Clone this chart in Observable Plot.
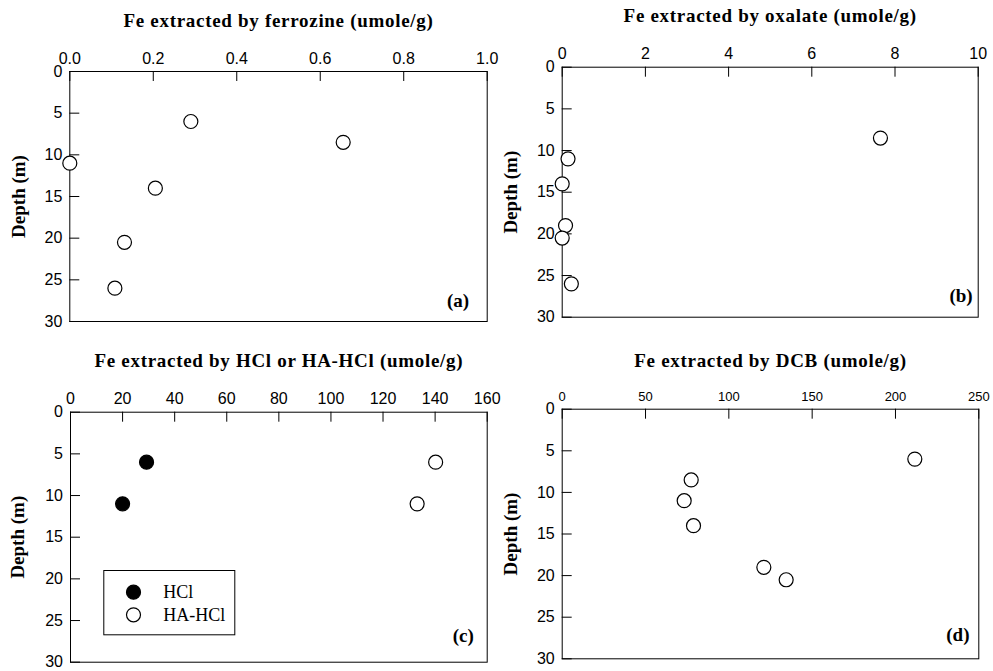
<!DOCTYPE html>
<html><head><meta charset="utf-8">
<script src="https://cdn.jsdelivr.net/npm/d3@7"></script>
<script src="https://cdn.jsdelivr.net/npm/@observablehq/plot@0.6"></script>
<style>
body{margin:0;background:#fff;}
#root{position:relative;width:993px;height:671px;background:#fff;overflow:hidden;}
.panel{position:absolute;}
</style></head><body><div id="root"></div>
<script>
// ---- data ----
const depthTicks = [0, 5, 10, 15, 20, 25, 30];

const ferrozineDepth = [6, 8.5, 11, 14, 20.5, 26];
const ferrozineFe = [0.29, 0.655, 0.0, 0.205, 0.131, 0.108];
const ferrozineTicks = [0, 0.2, 0.4, 0.6, 0.8, 1.0];

const oxalateDepth = [8.5, 11, 14, 19, 20.5, 26];
const oxalateFe = [7.65, 0.14, 0.0, 0.08, 0.0, 0.22];
const oxalateTicks = [0, 2, 4, 6, 8, 10];

const hclDepth = [6, 11];
const hclFe = [29.2, 20.0];
const haHclDepth = [6, 11];
const haHclFe = [140.2, 133.1];
const hclTicks = [0, 20, 40, 60, 80, 100, 120, 140, 160];

const dcbDepth = [6, 8.5, 11, 14, 19, 20.5];
const dcbFe = [211.6, 77.4, 73.2, 78.8, 121, 134.4];
const dcbTicks = [0, 50, 100, 150, 200, 250];

const titles = [
  "Fe extracted by ferrozine (umole/g)",
  "Fe extracted by oxalate (umole/g)",
  "Fe extracted by HCl or HA-HCl (umole/g)",
  "Fe extracted by DCB (umole/g)"
];
const panelTags = ["(a)", "(b)", "(c)", "(d)"];
const depthLabel = "Depth (m)";
const legendLabels = ["HCl", "HA-HCl"];

// ---- drawing ----
const serif = "'Liberation Serif', 'Times New Roman', serif";
const sans = "'Liberation Sans', Arial, sans-serif";
const rows = (xs, ys) => xs.map((v, i) => ({fe: v, depth: ys[i]}));
const TICK = 10; // inward tick length in px

function panel(cfg) {
  const {left, top, width, height, ml, mr, mt, mb, xDomain, xTicks, xFormat, xFontSize,
         series, title, titleDy, tag, tagDx, tagDy, labelDx, extra = []} = cfg;
  const fh = height - mt - mb, fw = width - ml - mr;
  const yTickLen = 30 * TICK / fh;
  const xTickLen = (xDomain[1] - xDomain[0]) * TICK / fw;
  const plot = Plot.plot({
    width, height, marginTop: mt, marginRight: mr, marginBottom: mb, marginLeft: ml,
    style: {fontFamily: sans, fontSize: "16px", color: "#000", background: "transparent", overflow: "visible"},
    x: {domain: xDomain},
    y: {domain: [0, 30], reverse: true},
    marks: [
      Plot.frame({stroke: "#000", strokeWidth: 1}),
      Plot.ruleX(xTicks, {x: d => d, y1: 0, y2: yTickLen, stroke: "#000", strokeWidth: 1}),
      Plot.ruleY(depthTicks, {y: d => d, x1: xDomain[0], x2: xDomain[0] + xTickLen, stroke: "#000", strokeWidth: 1}),
      Plot.axisX({anchor: "top", ticks: xTicks, tickFormat: xFormat, tickSize: 0, tickPadding: 8, fontSize: xFontSize, label: null}),
      Plot.axisY({anchor: "left", ticks: depthTicks, tickSize: 0, tickPadding: 7.5, fontSize: 16, label: null}),
      ...series.map(s => Plot.dot(rows(s.fe, s.depth), {x: "fe", y: "depth", r: 7, fill: s.fill, stroke: "#000", strokeWidth: 1.2})),
      Plot.text([title], {frameAnchor: "top", dy: titleDy, text: d => d, fontFamily: serif, fontWeight: "bold", fontSize: 19, lineAnchor: "middle"}),
      Plot.text([depthLabel], {frameAnchor: "left", dx: labelDx, rotate: -90, text: d => d, fontFamily: serif, fontWeight: "bold", fontSize: 19, textAnchor: "middle", lineAnchor: "middle"}),
      Plot.text([tag], {frameAnchor: "bottom-right", dx: tagDx, dy: tagDy, text: d => d, fontFamily: serif, fontWeight: "bold", fontSize: 19, textAnchor: "end", lineAnchor: "middle"}),
      ...extra
    ]
  });
  d3.select(plot).selectAll("text")
    .filter(function() { return titles.includes(this.textContent); })
    .attr("letter-spacing", "0.7px");
  const div = document.createElement("div");
  div.className = "panel";
  div.style.left = left + "px";
  div.style.top = top + "px";
  div.appendChild(plot);
  document.getElementById("root").appendChild(div);
}

panel({left: 0, top: 0, width: 496, height: 335, ml: 69.3, mr: 9.3, mt: 71, mb: 14,
  xDomain: [0, 1], xTicks: ferrozineTicks, xFormat: d3.format(".1f"), xFontSize: 16,
  series: [{fe: ferrozineFe, depth: ferrozineDepth, fill: "#fff"}],
  title: titles[0], titleDy: -51, tag: panelTags[0], tagDx: -18, tagDy: -21, labelDx: -51});

panel({left: 496, top: 0, width: 497, height: 335, ml: 65.7, mr: 15.3, mt: 66.7, mb: 18.3,
  xDomain: [0, 10], xTicks: oxalateTicks, xFormat: d3.format("d"), xFontSize: 16,
  series: [{fe: oxalateFe, depth: oxalateDepth, fill: "#fff"}],
  title: titles[1], titleDy: -51.7, tag: panelTags[1], tagDx: -5.5, tagDy: -21.7, labelDx: -51.7});

panel({left: 0, top: 335, width: 496, height: 336, ml: 70, mr: 9.3, mt: 76.7, mb: 9.3,
  xDomain: [0, 160], xTicks: hclTicks, xFormat: d3.format("d"), xFontSize: 16,
  series: [{fe: hclFe, depth: hclDepth, fill: "#000"}, {fe: haHclFe, depth: haHclDepth, fill: "#fff"}],
  title: titles[2], titleDy: -51.7, tag: panelTags[2], tagDx: -13.4, tagDy: -26.7, labelDx: -52.5,
  extra: [
    Plot.frame({insetLeft: 33.3, insetTop: 158.3, insetRight: 252.4, insetBottom: 27.4, stroke: "#000"}),
    Plot.dot([legendLabels[0]], {frameAnchor: "top-left", dx: 63, dy: 180, r: 7, fill: "#000", stroke: "#000", strokeWidth: 1.2}),
    Plot.dot([legendLabels[1]], {frameAnchor: "top-left", dx: 63, dy: 202.6, r: 7, fill: "#fff", stroke: "#000", strokeWidth: 1.2}),
    Plot.text([legendLabels[0]], {frameAnchor: "top-left", dx: 92.7, dy: 180, text: d => d, textAnchor: "start", lineAnchor: "middle", fontFamily: serif, fontSize: 18}),
    Plot.text([legendLabels[1]], {frameAnchor: "top-left", dx: 92.7, dy: 202.6, text: d => d, textAnchor: "start", lineAnchor: "middle", fontFamily: serif, fontSize: 18})
  ]});

panel({left: 496, top: 335, width: 497, height: 336, ml: 65.7, mr: 14.7, mt: 73.7, mb: 12.7,
  xDomain: [0, 250], xTicks: dcbTicks, xFormat: d3.format("d"), xFontSize: 13,
  series: [{fe: dcbFe, depth: dcbDepth, fill: "#fff"}],
  title: titles[3], titleDy: -48, tag: panelTags[3], tagDx: -9.3, tagDy: -24.3, labelDx: -51.7});
</script>
</body></html>
